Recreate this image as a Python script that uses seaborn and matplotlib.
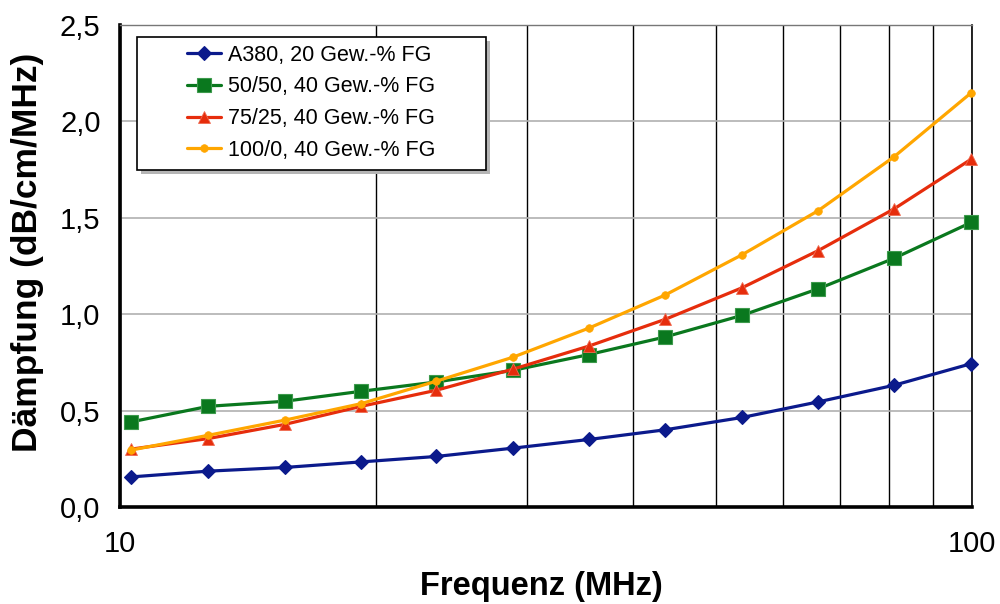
import matplotlib
matplotlib.use("Agg")
import matplotlib.pyplot as plt
import seaborn as sns
import pandas as pd
from matplotlib.ticker import FuncFormatter, FixedLocator, LogLocator, NullFormatter
from matplotlib.patches import Rectangle

# Measured attenuation per frequency for four filler formulations
frequency_mhz = [10.3, 12.7, 15.6, 19.2, 23.5, 28.9, 35.5, 43.6, 53.7, 66.0, 81.0, 99.8]
series_names = ["A380, 20 Gew.-% FG", "50/50, 40 Gew.-% FG",
                "75/25, 40 Gew.-% FG", "100/0, 40 Gew.-% FG"]
a380_20 = [0.158, 0.188, 0.207, 0.236, 0.264, 0.307, 0.352, 0.402, 0.466, 0.547, 0.633, 0.745]
mix_50_50 = [0.443, 0.524, 0.550, 0.602, 0.650, 0.710, 0.792, 0.883, 0.995, 1.133, 1.291, 1.477]
mix_75_25 = [0.302, 0.357, 0.430, 0.524, 0.607, 0.716, 0.836, 0.974, 1.138, 1.331, 1.547, 1.805]
mix_100_0 = [0.297, 0.374, 0.452, 0.538, 0.654, 0.778, 0.929, 1.100, 1.309, 1.538, 1.817, 2.149]
y_ticks = [0.0, 0.5, 1.0, 1.5, 2.0, 2.5]
x_ticks = [10, 100]

df = pd.DataFrame({
    "Frequenz": frequency_mhz * 4,
    "Daempfung": a380_20 + mix_50_50 + mix_75_25 + mix_100_0,
    "Serie": [n for n in series_names for _ in frequency_mhz],
})

styles = {
    series_names[0]: dict(color="#0b1a8c", marker="D", markersize=7.5, mec="#0b1a8c", mew=0.8),
    series_names[1]: dict(color="#0a781e", marker="s", markersize=9.5, mec="#3d9a4c", mew=0.8),
    series_names[2]: dict(color="#e62d0c", marker="^", markersize=9, mec="#f06a50", mew=0.6),
    series_names[3]: dict(color="#ffa600", marker="o", markersize=5.5, mec="#ffa600", mew=0.5),
}

sns.set_style("white")
plt.rcParams["font.family"] = ["Liberation Sans", "DejaVu Sans"]
plt.rcParams["text.color"] = "black"
plt.rcParams["xtick.color"] = "black"
plt.rcParams["ytick.color"] = "black"
plt.rcParams["axes.labelcolor"] = "black"

fig = plt.figure(figsize=(10, 6.04), dpi=100)
ax = fig.add_axes([0.12, 0.1599, 0.852, 0.7987])

for name in series_names:
    st = styles[name]
    sns.lineplot(data=df[df["Serie"] == name], x="Frequenz", y="Daempfung",
                 ax=ax, color=st["color"], marker=st["marker"],
                 markersize=st["markersize"], markeredgecolor=st["mec"],
                 markeredgewidth=st["mew"], linewidth=2.3, label=name,
                 clip_on=False, zorder=3)

ax.set_xscale("log")
ax.set_xlim(10, 100)
ax.set_ylim(0, 2.5)

ax.xaxis.set_major_locator(FixedLocator(x_ticks))
ax.xaxis.set_major_formatter(FuncFormatter(lambda v, p: f"{v:.0f}"))
ax.xaxis.set_minor_locator(LogLocator(base=10, subs=range(2, 10)))
ax.xaxis.set_minor_formatter(NullFormatter())
ax.yaxis.set_major_locator(FixedLocator(y_ticks))
ax.yaxis.set_major_formatter(FuncFormatter(lambda v, p: f"{v:.1f}".replace(".", ",")))

ax.set_axisbelow(True)
ax.grid(True, axis="x", which="both", color="black", linewidth=1.0)
ax.grid(True, axis="y", which="major", color="#b0b0b0", linewidth=1.2)

for side in ("left", "bottom"):
    ax.spines[side].set_linewidth(2.6)
    ax.spines[side].set_color("black")
ax.spines["top"].set_color("#777777")
ax.spines["top"].set_linewidth(1.0)
ax.spines["right"].set_color("black")
ax.spines["right"].set_linewidth(1.2)

ax.tick_params(axis="y", which="major", direction="in", length=8, width=2.6,
               pad=14, labelsize=21, colors="black", labelcolor="black")
ax.tick_params(axis="x", which="major", direction="in", length=5, width=2.6,
               pad=16, labelsize=21, colors="black", labelcolor="black")
ax.tick_params(axis="x", which="minor", length=0)

ax.set_xlabel("")
ax.set_ylabel("")
fig.text(0.541, 1 - 587 / 604, "Frequenz (MHz)", ha="center", va="center",
         fontsize=23.5, fontweight="bold", color="black")
fig.text(0.028, 1 - 252 / 604, "Dämpfung (dB/cm/MHz)", ha="center", va="center",
         rotation=90, fontsize=25.5, fontweight="bold", color="black")

# Legend box with drop shadow, legend entries drawn inside without their own frame
box_x0, box_y0, box_w, box_h = 0.020, 0.6994, 0.4096, 0.2756
shadow = Rectangle((box_x0 + 0.005, box_y0 - 0.008), box_w, box_h, transform=ax.transAxes,
                   facecolor="#b5b5b5", edgecolor="none", zorder=4)
frame = Rectangle((box_x0, box_y0), box_w, box_h, transform=ax.transAxes,
                  facecolor="white", edgecolor="black", linewidth=1.2, zorder=5)
ax.add_patch(shadow)
ax.add_patch(frame)

leg = ax.legend(loc="center", bbox_to_anchor=(0.224, 0.839), frameon=False,
                fontsize=15.5, handlelength=1.6, handletextpad=0.3,
                labelspacing=0.5, borderpad=0.2, labelcolor="black")
leg.set_zorder(6)

fig.savefig("out.png", dpi=100, facecolor="white")
